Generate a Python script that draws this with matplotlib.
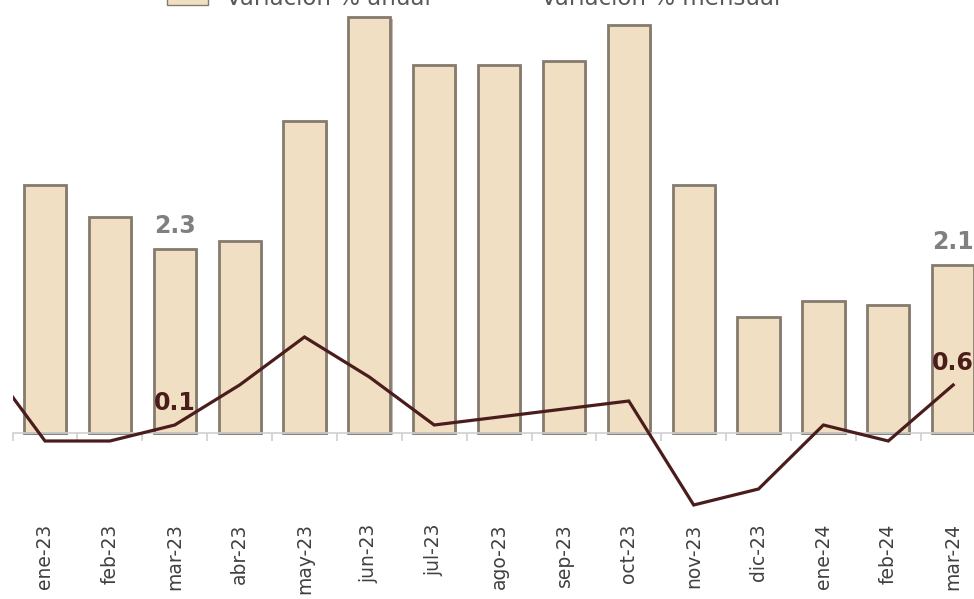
import numpy as np
import matplotlib
matplotlib.use("Agg")
import matplotlib.pyplot as plt
from matplotlib import patheffects as pe
from matplotlib.patches import Patch
from matplotlib.lines import Line2D

# datos
meses = ["ene-23", "feb-23", "mar-23", "abr-23", "may-23", "jun-23", "jul-23",
         "ago-23", "sep-23", "oct-23", "nov-23", "dic-23", "ene-24", "feb-24", "mar-24"]
anual = [3.1, 2.7, 2.3, 2.4, 3.9, 5.2, 4.6, 4.6, 4.65, 5.1, 3.1, 1.45, 1.65, 1.6, 2.1]
# la serie mensual empieza en dic-22 (queda recortada por el borde izquierdo)
mensual = [1.0, -0.1, -0.1, 0.1, 0.6, 1.2, 0.7, 0.1, 0.2, 0.3, 0.4, -0.9, -0.7, 0.1, -0.1, 0.6]

color_barra = "#F0DFC2"
color_borde = "#857b6d"
color_linea = "#4B1C1C"
gris = "#808080"

fig = plt.figure(figsize=(9.74, 5.99), dpi=100)
ax = fig.add_axes([0.0129, 0.1102, 0.999, 0.8881])

x = np.arange(len(meses))
bars = ax.bar(x, anual, width=0.65, color=color_barra, edgecolor=color_borde,
              linewidth=2.0, zorder=2)
for b in bars:
    b.set_path_effects([pe.SimplePatchShadow(offset=(1.5, -1.5), shadow_rgbFace="#9a9080", alpha=0.6),
                        pe.Normal()])

xm = np.arange(-1, len(meses))
ax.plot(xm, mensual, color=color_linea, linewidth=2.3, zorder=3, solid_joinstyle="miter")

# etiquetas de datos
for i in [2, 14]:
    ax.annotate(f"{anual[i]:.1f}", (x[i], anual[i]), xytext=(0, 8), textcoords="offset points",
                ha="center", va="bottom", fontsize=17, fontweight="bold", color=gris, zorder=4)
for i in [2, 14]:
    ax.annotate(f"{mensual[i + 1]:.1f}", (x[i], mensual[i + 1]), xytext=(0, 7),
                textcoords="offset points", ha="center", va="bottom", fontsize=17,
                fontweight="bold", color=color_linea, zorder=4)

ax.set_xlim(-0.5, len(meses) - 0.5)
ax.set_ylim(-1.25, 5.4)
ax.set_yticks([])
for s in ["top", "left", "right"]:
    ax.spines[s].set_visible(False)
ax.spines["bottom"].set_position(("data", 0))
ax.spines["bottom"].set_color("#d0d0d0")
ax.spines["bottom"].set_linewidth(1.2)

ax.set_xticks(x)
ax.set_xticklabels(meses, rotation=90, fontsize=13.5, color="#404040", va="top")
ax.set_xticks(np.arange(-0.5, len(meses)), minor=True)
ax.tick_params(axis="x", which="major", length=0, pad=65)
ax.tick_params(axis="x", which="minor", length=6, color="#d0d0d0", width=1.2)

handles = [Patch(facecolor=color_barra, edgecolor=color_borde, linewidth=1.0),
           Line2D([], [], color=color_linea, linewidth=2.3)]
fig.legend(handles, ["Variación % anual", "Variación % mensual"], loc="center",
           bbox_to_anchor=(0.486, 1.002), ncol=2, frameon=False, fontsize=16.5,
           labelcolor="#595959", columnspacing=2.2, handlelength=1.8)

fig.savefig("out.png", dpi=100)
